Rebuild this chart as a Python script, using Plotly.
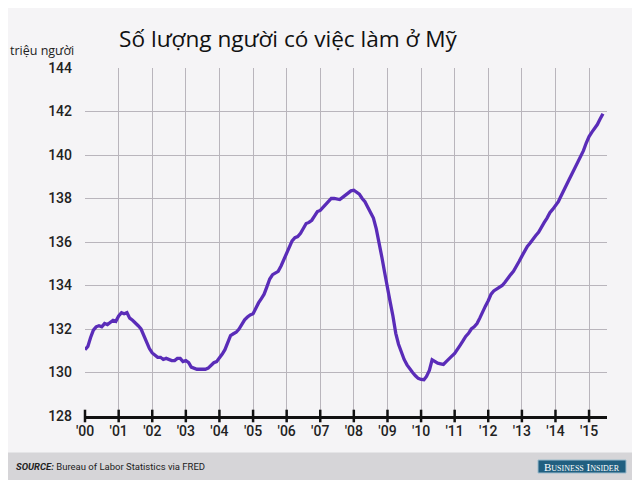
import pandas as pd
import plotly.graph_objects as go

# employment level, millions of people, monthly Jan 2000 - Jun 2015
y2000 = [131.05, 131.2, 131.6, 131.95, 132.1, 132.15, 132.1, 132.25, 132.2, 132.3, 132.4, 132.35]
y2001 = [132.6, 132.75, 132.7, 132.75, 132.5, 132.4, 132.3, 132.15, 132.0, 131.7, 131.4, 131.1]
y2002 = [130.9, 130.8, 130.7, 130.7, 130.6, 130.65, 130.6, 130.55, 130.55, 130.65, 130.65, 130.5]
y2003 = [130.55, 130.45, 130.25, 130.2, 130.15, 130.15, 130.15, 130.15, 130.2, 130.35, 130.45, 130.5]
y2004 = [130.65, 130.85, 131.05, 131.4, 131.7, 131.78, 131.85, 132.0, 132.25, 132.42, 132.55, 132.65]
y2005 = [132.7, 133.0, 133.2, 133.4, 133.6, 133.95, 134.3, 134.5, 134.6, 134.65, 134.9, 135.2]
y2006 = [135.5, 135.8, 136.05, 136.2, 136.25, 136.4, 136.6, 136.85, 136.9, 137.0, 137.2, 137.4]
y2007 = [137.45, 137.6, 137.75, 137.85, 138.0, 138.0, 137.98, 137.95, 138.05, 138.15, 138.25, 138.35]
y2008 = [138.38, 138.3, 138.2, 138.0, 137.85, 137.6, 137.35, 137.1, 136.6, 135.85, 135.3, 134.6]
y2009 = [133.8, 133.2, 132.6, 131.8, 131.3, 130.88, 130.6, 130.35, 130.15, 130.0, 129.85, 129.73]
y2010 = [129.68, 129.67, 129.82, 130.1, 130.58, 130.5, 130.43, 130.4, 130.37, 130.5, 130.65, 130.75]
y2011 = [130.88, 131.05, 131.25, 131.45, 131.66, 131.8, 132.0, 132.1, 132.25, 132.5, 132.74, 133.05]
y2012 = [133.3, 133.6, 133.75, 133.85, 133.9, 134.0, 134.15, 134.35, 134.5, 134.65, 134.85, 135.1]
y2013 = [135.35, 135.6, 135.8, 135.95, 136.15, 136.3, 136.45, 136.7, 136.9, 137.1, 137.35, 137.5]
y2014 = [137.65, 137.85, 138.1, 138.4, 138.65, 138.9, 139.15, 139.4, 139.65, 139.9, 140.2, 140.55]
y2015 = [140.85, 141.05, 141.2, 141.4, 141.65, 141.9]

years = list(range(2000, 2016))
year_labels = ["'00", "'01", "'02", "'03", "'04", "'05", "'06", "'07",
               "'08", "'09", "'10", "'11", "'12", "'13", "'14", "'15"]
y_ticks = [128, 130, 132, 134, 136, 138, 140, 142, 144]

values = (y2000 + y2001 + y2002 + y2003 + y2004 + y2005 + y2006 + y2007
          + y2008 + y2009 + y2010 + y2011 + y2012 + y2013 + y2014 + y2015)
months = pd.date_range("2000-01-01", periods=len(values), freq="MS")
tick_dates = [f"{y}-01-01" for y in years]

W, H = 640, 480
OFF = 8  # the page puts the figure 8px in from the corner
# plot area edges, in window pixels
L, R, T, B = 85, 607, 68, 416
GRID = "#b9b5bc"


def px_x(px):
    return (px - L) / (R - L)


def px_y(py):
    return (B - py) / (B - T)


fig = go.Figure()

fig.add_trace(go.Scatter(
    x=months, y=values, mode="lines",
    line=dict(color="#5a2cb8", width=3.3),
    hoverinfo="skip", showlegend=False,
))

# tick marks crossing the x axis line
fig.add_trace(go.Scatter(
    x=tick_dates, y=[y_ticks[0]] * len(tick_dates), mode="markers",
    marker=dict(symbol="line-ns", size=9, line=dict(color="#111111", width=2.5)),
    cliponaxis=False, hoverinfo="skip", showlegend=False,
))

# footer band and logo
fig.add_shape(type="rect", xref="paper", yref="paper",
              x0=px_x(0), x1=px_x(W + OFF), y0=px_y(452.5), y1=px_y(H + OFF),
              fillcolor="#d6d5d8", line=dict(width=0), layer="below")
fig.add_shape(type="rect", xref="paper", yref="paper",
              x0=px_x(538), x1=px_x(626), y0=px_y(460), y1=px_y(473),
              fillcolor="#215f80", line=dict(color="#9dbccd", width=1))

fig.add_annotation(
    x=px_x(582), y=px_y(466.5), xref="paper", yref="paper",
    text="Business Insider", showarrow=False, xanchor="center", yanchor="middle",
    font=dict(family="Liberation Serif, DejaVu Serif, serif", size=11,
              color="white", variant="small-caps"),
)
fig.add_annotation(
    x=px_x(14), y=px_y(466.5), xref="paper", yref="paper",
    text="<b><i>SOURCE:</i></b> Bureau of Labor Statistics via FRED",
    showarrow=False, xanchor="left", yanchor="middle",
    font=dict(family="Roboto, sans-serif", size=9.5, color="#222222"),
)
fig.add_annotation(
    x=px_x(OFF), y=px_y(51), xref="paper", yref="paper",
    text="triệu người", showarrow=False, xanchor="left", yanchor="middle",
    font=dict(family="Open Sans, sans-serif", size=12.5, color="#222222"),
)

fig.update_layout(
    width=W, height=H,
    margin=dict(l=L - OFF, r=W + OFF - R, t=T - OFF, b=H + OFF - B),
    paper_bgcolor="#f5f4f6",
    plot_bgcolor="#f5f4f6",
    title=dict(
        text="Số lượng người có việc làm ở Mỹ",
        x=(288 - OFF) / W, y=1 - (39 - OFF) / H, xanchor="center", yanchor="middle",
        font=dict(family="Open Sans, sans-serif", size=22.6, color="#111111"),
    ),
    xaxis=dict(
        range=["2000-01-01", "2015-07-15"],
        tickvals=tick_dates, ticktext=year_labels,
        showgrid=True, gridcolor=GRID, gridwidth=1,
        showline=True, linecolor="#111111", linewidth=2.5,
        ticks="", zeroline=False,
        tickfont=dict(family="Roboto, sans-serif", size=14, color="#222222", weight=500),
    ),
    yaxis=dict(
        range=[128, 144],
        tickvals=y_ticks,
        showgrid=True, gridcolor=GRID, gridwidth=1,
        showline=False, zeroline=False, ticks="",
        ticklabelstandoff=12,
        tickfont=dict(family="Roboto, sans-serif", size=14, color="#222222", weight=500),
    ),
)

fig.write_html("out.html")
